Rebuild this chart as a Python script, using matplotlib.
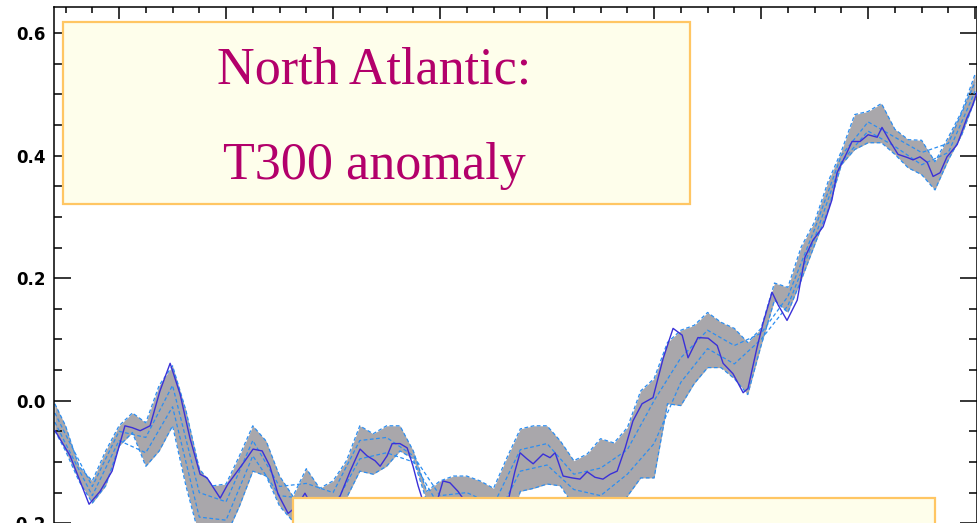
"""North Atlantic T300 anomaly: ensemble spread with one highlighted member."""

import matplotlib

matplotlib.use("Agg")
import matplotlib.pyplot as plt  # noqa: E402
from matplotlib.patches import Rectangle  # noqa: E402
from matplotlib.ticker import MultipleLocator  # noqa: E402

GREY = "#a9a7ab"
BLUE = "#3a30d8"
DASH = "#2b8ef2"
BOX_FILL = "#fefeeb"
BOX_EDGE = "#ffc663"
MAGENTA = "#b3006b"

W, H = 978, 523

# ensemble envelope (half-year grid)
env_years = [1977.6, 1978.0, 1978.5, 1979.0, 1979.5, 1980.0, 1980.5, 1981.0, 1981.5, 1982.0,
             1982.5, 1983.0, 1983.5, 1984.0, 1984.5, 1985.0, 1985.5, 1986.0, 1986.5, 1987.0,
             1987.5, 1988.0, 1988.5, 1989.0, 1989.5, 1990.0, 1990.5, 1991.0, 1991.5, 1992.0,
             1992.5, 1993.0, 1993.5, 1994.0, 1994.5, 1995.0, 1995.5, 1996.0, 1996.5, 1997.0,
             1997.5, 1998.0, 1998.5, 1999.0, 1999.5, 2000.0, 2000.5, 2001.0, 2001.5, 2002.0,
             2002.5, 2003.0, 2003.5, 2004.0, 2004.5, 2005.0, 2005.5, 2006.0, 2006.5, 2007.0,
             2007.5, 2008.0, 2008.5, 2009.0, 2009.5, 2010.0, 2010.5, 2011.0, 2011.5, 2012.0]
env_upper = [-0.005, -0.041, -0.107, -0.131, -0.082, -0.041, -0.020, -0.036, 0.025, 0.057,
             -0.016, -0.111, -0.139, -0.136, -0.090, -0.041, -0.066, -0.123, -0.156, -0.111,
             -0.143, -0.131, -0.098, -0.041, -0.054, -0.041, -0.041, -0.082, -0.148, -0.131,
             -0.123, -0.123, -0.131, -0.143, -0.093, -0.046, -0.041, -0.041, -0.066, -0.098,
             -0.087, -0.062, -0.069, -0.044, 0.016, 0.036, 0.095, 0.115, 0.123, 0.144,
             0.128, 0.118, 0.095, 0.118, 0.192, 0.185, 0.251, 0.292, 0.357, 0.407,
             0.467, 0.472, 0.485, 0.443, 0.426, 0.425, 0.390, 0.430, 0.472, 0.533]
env_lower = [-0.049, -0.082, -0.131, -0.167, -0.139, -0.074, -0.052, -0.107, -0.082, -0.041,
             -0.139, -0.221, -0.238, -0.221, -0.172, -0.115, -0.123, -0.172, -0.197, -0.180,
             -0.205, -0.197, -0.159, -0.115, -0.120, -0.107, -0.082, -0.095, -0.164, -0.197,
             -0.189, -0.205, -0.221, -0.230, -0.213, -0.148, -0.143, -0.136, -0.139, -0.172,
             -0.197, -0.197, -0.189, -0.156, -0.126, -0.126, -0.005, -0.008, 0.028, 0.054,
             0.054, 0.036, 0.010, 0.090, 0.164, 0.144, 0.197, 0.254, 0.311, 0.385,
             0.410, 0.421, 0.421, 0.402, 0.380, 0.369, 0.344, 0.393, 0.434, 0.492]

# inner members (yearly)
member_years = [1977.6, 1978, 1979, 1980, 1981, 1982, 1983, 1984, 1985, 1986, 1987, 1988,
                1989, 1990, 1991, 1992, 1993, 1994, 1995, 1996, 1997, 1998, 1999, 2000,
                2001, 2002, 2003, 2004, 2005, 2006, 2007, 2008, 2009, 2010, 2011, 2012]
member_a = [-0.02, -0.055, -0.14, -0.05, -0.06, 0.025, -0.15, -0.165, -0.065, -0.14, -0.135, -0.15,
            -0.065, -0.06, -0.09, -0.155, -0.15, -0.17, -0.08, -0.07, -0.12, -0.11, -0.08, 0.0,
            0.07, 0.115, 0.09, 0.11, 0.17, 0.28, 0.40, 0.455, 0.43, 0.405, 0.42, 0.52]
member_b = [-0.035, -0.07, -0.155, -0.065, -0.085, -0.01, -0.19, -0.195, -0.09, -0.155, -0.16, -0.175,
            -0.095, -0.085, -0.10, -0.175, -0.18, -0.20, -0.115, -0.105, -0.145, -0.155, -0.12, -0.07,
            0.03, 0.085, 0.06, 0.10, 0.155, 0.265, 0.39, 0.44, 0.415, 0.385, 0.405, 0.505]

# highlighted run
main_years = [1977.61, 1978.17, 1978.88, 1979.29, 1979.74, 1980.22, 1980.49, 1980.79, 1981.16, 1981.53,
              1981.91, 1982.28, 1982.65, 1983.03, 1983.29, 1983.78, 1984.07, 1984.34, 1984.71, 1985.01,
              1985.35, 1985.64, 1985.94, 1986.32, 1986.65, 1986.95, 1987.21, 1987.70, 1988.26, 1988.64,
              1989.01, 1989.27, 1989.57, 1989.76, 1990.02, 1990.21, 1990.50, 1990.77, 1990.99, 1991.18,
              1991.36, 1991.63, 1991.89, 1992.11, 1992.37, 1992.67, 1992.93, 1993.31, 1994.06, 1994.50,
              1994.80, 1994.99, 1995.25, 1995.48, 1995.85, 1996.11, 1996.30, 1996.60, 1996.93, 1997.23,
              1997.50, 1997.79, 1998.09, 1998.36, 1998.62, 1998.92, 1999.21, 1999.55, 1999.96, 2000.34,
              2000.71, 2001.05, 2001.27, 2001.64, 2002.02, 2002.36, 2002.58, 2002.95, 2003.33, 2003.51,
              2003.85, 2004.07, 2004.41, 2004.64, 2004.97, 2005.35, 2005.64, 2005.94, 2006.32, 2006.65,
              2006.84, 2007.21, 2007.40, 2007.70, 2008.00, 2008.34, 2008.52, 2008.82, 2009.12, 2009.46,
              2009.68, 2009.94, 2010.21, 2010.43, 2010.69, 2010.95, 2011.33, 2011.70, 2011.89, 2012.07]
main_vals = [-0.049, -0.090, -0.169, -0.148, -0.115, -0.041, -0.044, -0.049, -0.041, 0.016,
             0.061, 0.011, -0.061, -0.120, -0.126, -0.159, -0.136, -0.120, -0.098, -0.079,
             -0.082, -0.107, -0.152, -0.184, -0.172, -0.151, -0.172, -0.189, -0.156, -0.115,
             -0.079, -0.090, -0.098, -0.107, -0.090, -0.070, -0.070, -0.077, -0.107, -0.139,
             -0.164, -0.197, -0.164, -0.131, -0.134, -0.148, -0.164, -0.197, -0.213, -0.172,
             -0.115, -0.085, -0.095, -0.103, -0.087, -0.093, -0.085, -0.123, -0.126, -0.128,
             -0.116, -0.125, -0.128, -0.120, -0.115, -0.077, -0.033, -0.005, 0.005, 0.069,
             0.118, 0.107, 0.070, 0.103, 0.102, 0.090, 0.061, 0.044, 0.013, 0.020,
             0.087, 0.126, 0.177, 0.156, 0.131, 0.164, 0.234, 0.262, 0.284, 0.328,
             0.372, 0.405, 0.423, 0.423, 0.434, 0.430, 0.446, 0.423, 0.402, 0.397,
             0.393, 0.398, 0.389, 0.366, 0.372, 0.398, 0.418, 0.462, 0.480, 0.503]

yticks = [-0.2, 0.0, 0.2, 0.4, 0.6]
ytick_labels = ["-0.2", "0.0", "0.2", "0.4", "0.6"]


def px_box(fig, x0, y0, x1, y1):
    # rectangle given in picture pixels (origin top-left)
    r = Rectangle((x0 / W, 1 - y1 / H), (x1 - x0) / W, (y1 - y0) / H,
                  transform=fig.transFigure, facecolor=BOX_FILL, edgecolor=BOX_EDGE,
                  linewidth=1.6, zorder=5)
    fig.add_artist(r)


def main():
    fig = plt.figure(figsize=(W / 100, H / 100), dpi=100)
    # axes runs off the bottom of the picture, as in the cropped original
    left, right, top, bottom = 54.3, 976.7, 6.7, 584.5
    ax = fig.add_axes([left / W, 1 - bottom / H, (right - left) / W, (bottom - top) / H])

    ax.fill_between(env_years, env_lower, env_upper, color=GREY, lw=0, zorder=1)
    for ys in (env_upper, env_lower):
        ax.plot(env_years, ys, color=DASH, lw=0.9, ls=(0, (3, 2)), zorder=2)
    for ys in (member_a, member_b):
        ax.plot(member_years, ys, color=DASH, lw=0.9, ls=(0, (3, 2)), zorder=2)
    ax.plot(main_years, main_vals, color=BLUE, lw=1.0, zorder=3)

    ax.set_xlim(1977.58, 2012.06)
    ax.set_ylim(-0.3, 0.643)
    ax.xaxis.set_major_locator(MultipleLocator(4))
    ax.xaxis.set_minor_locator(MultipleLocator(1))
    ax.yaxis.set_minor_locator(MultipleLocator(0.05))
    ax.set_yticks(yticks)
    ax.set_yticklabels(ytick_labels, fontfamily="DejaVu Sans", fontweight="bold", fontsize=12)
    ax.tick_params(axis="both", which="both", direction="in", top=True, right=True,
                   width=1.1, color="black")
    ax.tick_params(axis="x", which="major", length=8.6, labelbottom=False)
    ax.tick_params(axis="x", which="minor", length=4.3)
    ax.tick_params(axis="y", which="major", length=12.2, pad=6)
    ax.tick_params(axis="y", which="minor", length=5.8)
    for s in ax.spines.values():
        s.set_linewidth(1.1)

    px_box(fig, 63, 22, 690, 204)
    px_box(fig, 293, 498, 935, 560)
    for txt, base in (("North Atlantic:", 84), ("T300 anomaly", 179)):
        fig.text(374 / W, 1 - base / H, txt, ha="center", va="baseline",
                 fontfamily="Liberation Serif", fontsize=37.5, color=MAGENTA, zorder=6)

    fig.savefig("out.png", dpi=100)
    plt.close(fig)


if __name__ == "__main__":
    main()
